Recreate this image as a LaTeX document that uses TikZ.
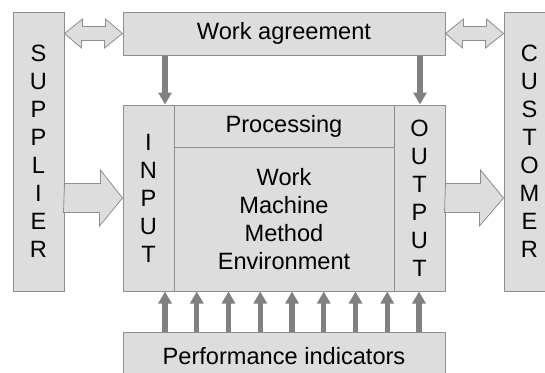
\documentclass[tikz,border=0pt]{standalone}
\usepackage{fontspec}
\setmainfont{Liberation Sans}
\usetikzlibrary{arrows.meta,calc}
\definecolor{boxfill}{HTML}{DDDDDD}
\definecolor{boxline}{HTML}{8E8E8E}
\definecolor{arrowgray}{HTML}{808080}

\begin{document}
\begin{tikzpicture}[x=1pt,y=-1pt,
  blk/.style={draw=boxline, fill=boxfill, line width=1pt, inner sep=0pt,
    align=center, font=\fontsize{23.6}{28}\selectfont, text=black},
  flow/.style={draw=arrowgray, line width=5.3pt,
    -{Triangle[width=13pt,length=12pt]}},
  hollow/.style={draw=boxline, fill=boxfill, line width=0.8pt, line join=miter}]

\useasboundingbox (0,0) rectangle (545,372);

% partners
\node[blk, minimum width=51pt, minimum height=279pt] (sup) at (38.5,151.5)
  {S\\U\\P\\P\\L\\I\\E\\R};
\node[blk, minimum width=51pt, minimum height=279pt] (cust) at (529.5,151.5)
  {C\\U\\S\\T\\O\\M\\E\\R};

% agreement on top
\node[blk, minimum width=322pt, minimum height=43pt] (agree) at (284,33.5)
  {Work agreement};

% process block
\node[blk, minimum width=51pt, minimum height=186pt] (inp) at (148.5,198)
  {I\\N\\P\\U\\T};
\node[blk, minimum width=220pt, minimum height=42pt] (proc) at (284,126)
  {Processing};
\node[blk, minimum width=220pt, minimum height=144pt] (work) at (284,219)
  {Work\\Machine\\Method\\Environment};
\node[blk, minimum width=51pt, minimum height=186pt] (out) at (419.5,198)
  {O\\U\\T\\P\\U\\T};

% indicators at the bottom, running past the lower edge
\node[blk, minimum width=322pt, minimum height=48pt] (perf) at (284,356)
  {Performance indicators};

% two-way exchange with supplier and customer
\draw[hollow] (sup.east |- agree.west) -- ++(18,-14.5) -- ++(0,7.5)
  -- ++(23,0) -- ++(0,-7.5) -- (agree.west) -- ++(-18,14.5) -- ++(0,-7.5)
  -- ++(-23,0) -- ++(0,7.5) -- cycle;
\draw[hollow] (agree.east) -- ++(18,-14.5) -- ++(0,7.5)
  -- ++(23,0) -- ++(0,-7.5) -- (cust.west |- agree.east) -- ++(-18,14.5)
  -- ++(0,-7.5) -- ++(-23,0) -- ++(0,7.5) -- cycle;

% material flow in and out
\draw[hollow] (sup.east |- inp.west) ++(0,-14.5) -- ++(36,0) -- ++(0,-13.5)
  -- (inp.west) -- ++(-23,28) -- ++(0,-13.5) -- ++(-36,0) -- cycle;
\draw[hollow] (out.east) ++(0,-14.5) -- ++(35,0) -- ++(0,-13.5)
  -- (cust.west |- out.east) -- ++(-24,28) -- ++(0,-13.5) -- ++(-35,0) -- cycle;

% agreement feeds input and output
\coordinate (dl) at (165,0);
\coordinate (dr) at (420,0);
\draw[flow] (agree.south -| dl) -- (inp.north -| dl);
\draw[flow] (agree.south -| dr) -- (out.north -| dr);

% indicators act on the whole process
\foreach \i in {0,...,8} {
  \coordinate (u\i) at ({165+31.75*\i},0);
  \draw[flow] (perf.north -| u\i) -- (inp.south -| u\i);
}
\end{tikzpicture}
\end{document}
